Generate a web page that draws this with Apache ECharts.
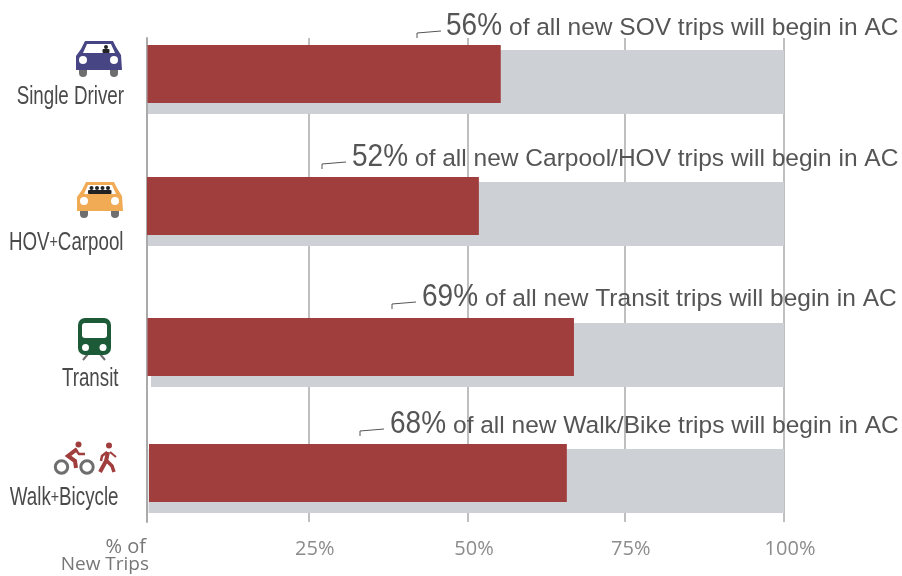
<!DOCTYPE html>
<html>
<head>
<meta charset="utf-8">
<title>New trips by mode</title>
<style>
html, body { margin: 0; padding: 0; background: #fff; }
#main { width: 902px; height: 576px; }
</style>
<script src="https://cdn.jsdelivr.net/npm/echarts@6/dist/echarts.min.js"></script>
</head>
<body>
<div id="main"></div>
<script>
// data
let categories = ['Single Driver', 'HOV+Carpool', 'Transit', 'Walk+Bicycle'];
let modeNames = ['SOV', 'Carpool/HOV', 'Transit', 'Walk/Bike'];
let statedPercent = ['56%', '52%', '69%', '68%'];
let newTrips = [55.5, 52.1, 67, 65.8];
let allTrips = [100, 100, 100, 100];
let tickValues = [0, 25.4, 50.4, 75, 100];
let tickLabels = ['', '25%', '50%', '75%', '100%'];

// layout
let redTop = [45, 177, 318, 444];
let greyTop = [50, 182, 323, 449];
let redLeft = [147.5, 147, 147.5, 149];
let greyLeft = [148, 148, 151, 148.5];
let plotRight = 784;
let textY = [26, 157, 297, 424];
let bigX = [446, 352, 422, 390];
let leaderX = [417, 322, 392, 360];
let labelRight = [124, 123.5, 118.5, 118.5];
let labelY = [97, 243, 379, 498];

let myChart = echarts.init(document.getElementById('main'));

let grids = [{ left: 147, top: 38, width: 637, height: 484 }];
let xAxes = [{
    type: 'value', gridIndex: 0, min: 0, max: 100,
    axisLine: { show: false },
    axisTick: { show: false, customValues: tickValues },
    splitLine: { show: true, lineStyle: { color: '#aaaaaa', width: 1.5 } },
    axisLabel: {
        customValues: tickValues,
        margin: 17,
        padding: [0, 0, 0, 12],
        color: '#8c8c8c',
        fontSize: 20,
        fontFamily: 'Open Sans',
        formatter: function (v) { return tickLabels[tickValues.indexOf(v)]; }
    }
}];
let yAxes = [{
    type: 'value', gridIndex: 0,
    axisLine: { show: true, lineStyle: { color: '#aaaaaa', width: 2 } },
    axisTick: { show: false }, axisLabel: { show: false }, splitLine: { show: false }
}];
let series = [];

function addRow(name, left, top, height, value, color, z) {
    let idx = grids.length;
    grids.push({ left: left, top: top, width: plotRight - left, height: height });
    xAxes.push({ type: 'value', gridIndex: idx, min: 0, max: 100, show: false });
    yAxes.push({ type: 'category', gridIndex: idx, data: [name], show: false });
    series.push({
        type: 'bar', name: name, xAxisIndex: idx, yAxisIndex: idx,
        data: [value], barWidth: '100%', z: z, silent: true,
        itemStyle: { color: color }
    });
}

for (let i = 0; i < categories.length; i++) {
    addRow(categories[i], greyLeft[i], greyTop[i], 64, allTrips[i], '#cdd0d4', 2);
    addRow(categories[i], redLeft[i], redTop[i], 58, newTrips[i], '#a03d3d', 3);
}

// icons and notes
let g = [];

function car(x, y, color, seats) {
    g.push({ type: 'rect', shape: { x: x + 3, y: y + 25, width: 8, height: 11, r: 4 }, style: { fill: '#6e6e6e' } });
    g.push({ type: 'rect', shape: { x: x + 34, y: y + 25, width: 8, height: 11, r: 4 }, style: { fill: '#6e6e6e' } });
    g.push({ type: 'polygon', shape: { points: [[x + 9, y], [x + 37, y], [x + 40, y + 6], [x + 45, y + 14], [x + 46, y + 29], [x, y + 29], [x, y + 15], [x + 5, y + 8]] }, style: { fill: color } });
    g.push({ type: 'polygon', shape: { points: [[x + 11, y + 3], [x + 35, y + 3], [x + 39, y + 12], [x + 7, y + 12]] }, style: { fill: '#fff' } });
    g.push({ type: 'circle', shape: { cx: x + 7, cy: y + 19, r: 4 }, style: { fill: '#fff' } });
    g.push({ type: 'circle', shape: { cx: x + 38, cy: y + 19, r: 4 }, style: { fill: '#fff' } });
    seats.forEach(function (sx) {
        g.push({ type: 'circle', shape: { cx: x + sx, cy: y + 6, r: 2 }, style: { fill: '#222' } });
        g.push({ type: 'rect', shape: { x: x + sx - 3.5, y: y + 8, width: 7, height: 4, r: 1 }, style: { fill: '#222' } });
    });
}
car(76, 41, '#474584', [30]);
car(77, 182, '#f1ab55', [14.5, 20, 25.5, 31]);

// train
g.push({ type: 'polyline', shape: { points: [[88, 354], [83, 360]] }, style: { stroke: '#6e6e6e', lineWidth: 2, fill: null } });
g.push({ type: 'polyline', shape: { points: [[100, 354], [105, 360]] }, style: { stroke: '#6e6e6e', lineWidth: 2, fill: null } });
g.push({ type: 'rect', shape: { x: 78, y: 318, width: 33, height: 37, r: 7 }, style: { fill: '#1d5b38' } });
g.push({ type: 'rect', shape: { x: 82, y: 323, width: 25, height: 15, r: 3 }, style: { fill: '#fff' } });
g.push({ type: 'circle', shape: { cx: 85.5, cy: 347.5, r: 3.5 }, style: { fill: '#fff' } });
g.push({ type: 'circle', shape: { cx: 103, cy: 347.5, r: 3.5 }, style: { fill: '#fff' } });

// bicycle and walker
g.push({ type: 'circle', shape: { cx: 61.5, cy: 467, r: 6.2 }, style: { stroke: '#6e6e6e', lineWidth: 3, fill: null } });
g.push({ type: 'circle', shape: { cx: 87, cy: 467, r: 6.2 }, style: { stroke: '#6e6e6e', lineWidth: 3, fill: null } });
g.push({ type: 'circle', shape: { cx: 78.5, cy: 444.5, r: 3 }, style: { fill: '#a03d3d' } });
g.push({ type: 'polyline', shape: { points: [[77, 449], [68, 456], [75, 461], [76, 468]] }, style: { stroke: '#a03d3d', lineWidth: 4, fill: null } });
g.push({ type: 'polyline', shape: { points: [[75, 449], [79, 454], [85, 454]] }, style: { stroke: '#a03d3d', lineWidth: 2.5, fill: null } });
g.push({ type: 'circle', shape: { cx: 109, cy: 445.5, r: 3 }, style: { fill: '#a03d3d' } });
g.push({ type: 'polyline', shape: { points: [[108, 452], [106, 461], [100, 472]] }, style: { stroke: '#a03d3d', lineWidth: 4, fill: null } });
g.push({ type: 'polyline', shape: { points: [[107, 461], [112, 466], [114, 472]] }, style: { stroke: '#a03d3d', lineWidth: 3.5, fill: null } });
g.push({ type: 'polyline', shape: { points: [[110, 452], [116, 457]] }, style: { stroke: '#a03d3d', lineWidth: 2, fill: null } });
g.push({ type: 'polyline', shape: { points: [[107, 452], [102, 456], [101, 461]] }, style: { stroke: '#a03d3d', lineWidth: 2.5, fill: null } });

for (let i = 0; i < categories.length; i++) {
    g.push({
        type: 'text', z: 10, x: labelRight[i], y: labelY[i], scaleX: 0.75,
        style: {
            text: categories[i].replace('+', '{p|+}'), align: 'right', verticalAlign: 'middle',
            fontSize: 25, fontFamily: 'Liberation Sans', fill: '#4a4a4a',
            rich: { p: { fontSize: 19, fontFamily: 'Liberation Sans', fill: '#4a4a4a' } }
        }
    });
    g.push({
        type: 'text', z: 10, x: bigX[i], y: textY[i],
        scaleX: 0.875,
        style: {
            text: statedPercent[i], align: 'left', verticalAlign: 'middle',
            fontSize: 32, fontFamily: 'Liberation Sans', fill: '#555555'
        }
    });
    g.push({
        type: 'text', z: 10, x: bigX[i] + 63, y: textY[i] + 2,
        style: {
            text: 'of all new ' + modeNames[i] + ' trips will begin in AC', align: 'left', verticalAlign: 'middle',
            fontSize: 24.5, fontFamily: 'Liberation Sans', fill: '#555555'
        }
    });
    let lx = leaderX[i], ly = textY[i] + 12;
    g.push({
        type: 'polyline', z: 10,
        shape: { points: [[lx, ly], [lx, ly - 5], [lx + 24, ly - 7]] },
        style: { stroke: '#555555', lineWidth: 1, fill: null }
    });
}

g.push({ type: 'text', z: 10, x: 146, y: 547, style: { text: '% of', align: 'right', verticalAlign: 'middle', fontSize: 20, fontFamily: 'Open Sans', fill: '#777777' } });
g.push({ type: 'text', z: 10, x: 149, y: 565, style: { text: 'New Trips', align: 'right', verticalAlign: 'middle', fontSize: 19, fontFamily: 'Open Sans', fill: '#777777' } });

let option = {
    animation: false,
    grid: grids,
    xAxis: xAxes,
    yAxis: yAxes,
    series: series,
    graphic: { elements: g }
};

myChart.setOption(option);
</script>
</body>
</html>
